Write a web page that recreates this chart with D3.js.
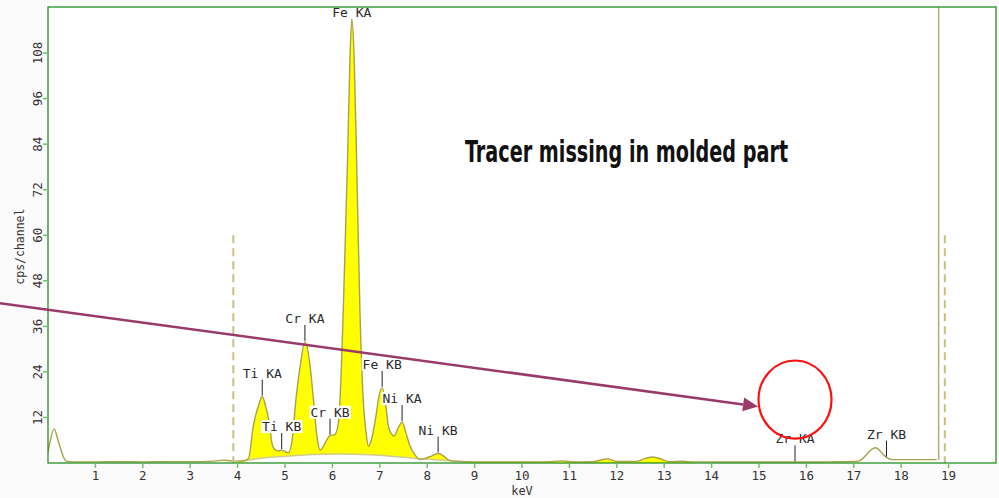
<!DOCTYPE html>
<html>
<head>
<meta charset="utf-8">
<script src="https://cdn.jsdelivr.net/npm/d3@7"></script>
<style>
  body { margin: 0; background: #fbfbfb; }
  svg { display: block; }
</style>
</head>
<body>
<div class="chart"></div>
<script>
// EDS spectrum, counts

var spectrumKeV = [0.00, 0.05, 0.13, 0.20, 0.25, 0.32, 0.39, 0.5, 1.0, 1.5, 2.0, 2.5, 3.0, 3.5, 3.7, 3.85, 4.0,
  4.12, 4.23, 4.33, 4.45, 4.52, 4.60, 4.68, 4.72, 4.78, 4.85, 4.93, 5.00, 5.07, 5.15, 5.23, 5.32, 5.42,
  5.53, 5.60, 5.68, 5.74, 5.81, 5.90, 5.95, 6.05, 6.12, 6.16, 6.23, 6.32, 6.37, 6.41, 6.46, 6.51, 6.58,
  6.65, 6.71, 6.76, 6.82, 6.92, 6.98, 7.05, 7.12, 7.18, 7.24, 7.30, 7.38, 7.47, 7.55, 7.64, 7.75, 7.85,
  7.95, 8.1, 8.23, 8.35, 8.45, 8.54, 8.8, 9.2, 9.6, 10.0, 10.5, 10.84, 11.1, 11.5, 11.79, 12.0, 12.4,
  12.6, 12.76, 12.95, 13.1, 13.4, 13.6, 14.0, 14.5, 15.0, 15.5, 16.0, 16.5, 17.0, 17.1, 17.45, 17.7,
  17.8, 18.3, 18.75];
var spectrumCounts = [2.7, 6.0, 9.0, 6.5, 4.4, 1.8, 0.5, 0.3, 0.3, 0.35, 0.3, 0.35, 0.35, 0.5, 0.75, 0.6, 0.5,
  0.6, 1.2, 9.7, 15.5, 17.5, 14.5, 9.7, 5.5, 3.6, 3.2, 3.4, 3.0, 2.7, 6.0, 16.7, 25.5, 31.9,
  25.5, 16.7, 6.5, 3.4, 4.4, 6.5, 7.2, 7.5, 10, 16.7, 40.5, 80, 106.4, 117, 106.4, 80, 40.5,
  16.7, 8, 4.4, 6.0, 12.5, 17.5, 19.8, 16, 9.7, 7.8, 7.1, 9.0, 10.8, 8.0, 4.4, 2.0, 0.9,
  1.2, 1.9, 2.5, 1.8, 0.8, 0.5, 0.35, 0.3, 0.3, 0.3, 0.3, 0.55, 0.3, 0.35, 1.1, 0.4, 0.4,
  1.2, 1.6, 1.0, 0.35, 0.45, 0.3, 0.3, 0.25, 0.25, 0.25, 0.25, 0.3, 0.4, 0.5, 4.0, 1.4,
  0.9, 0.9, 0.9];

// continuum under the main peaks
var backgroundKeV = [4.12, 4.19, 5.03, 6.09, 6.79, 7.85, 8.54, 8.8];
var backgroundCounts = [0.4, 0.66, 1.8, 2.4, 2.2, 1.1, 0.5, 0.3];

// peak markers
var peakNames = ["Ti KA", "Ti KB", "Cr KA", "Cr KB", "Fe KA", "Fe KB", "Ni KA", "Ni KB", "Zr KA", "Zr KB"];
var peakKeV = [4.52, 4.93, 5.42, 5.95, 6.41, 7.05, 7.47, 8.23, 15.76, 17.69];
var peakCounts = [17.5, 3.4, 31.9, 7.2, 117, 19.8, 10.8, 2.5, 0.2, 1.4];

var xTicks = d3.range(1, 20);
var yTicks = [12, 24, 36, 48, 60, 72, 84, 96, 108];

// ROI markers (keV)
var dashedMarkers = [3.91, 18.92];
var solidMarker = 18.79;

var svgWidth = 999;
var svgHeight = 498;

var svg = d3.select(".chart")
  .append("svg")
  .attr("width", svgWidth)
  .attr("height", svgHeight);

var plotLeft = 48, plotRight = 996, plotTop = 7, plotBottom = 463;

var x = d3.scaleLinear().domain([0, 20]).range([plotLeft, plotRight]);
var y = d3.scaleLinear().domain([0, 120]).range([plotBottom, plotTop + 0.5]);

svg.append("rect")
  .attr("x", plotLeft).attr("y", plotTop)
  .attr("width", plotRight - plotLeft).attr("height", plotBottom - plotTop)
  .attr("fill", "#ffffff");

var spec = spectrumKeV.map((k, i) => ({ k: k, c: spectrumCounts[i] }));
var bg = backgroundKeV.map((k, i) => ({ k: k, c: backgroundCounts[i] }));

svg.append("clipPath").attr("id", "plotclip")
  .append("rect")
  .attr("x", plotLeft).attr("y", plotTop)
  .attr("width", plotRight - plotLeft).attr("height", plotBottom - plotTop);

var plot = svg.append("g").attr("clip-path", "url(#plotclip)");

// yellow fill, only the lower range (Zr is outline only)
var fillArea = d3.area()
  .x(d => x(d.k))
  .y0(y(0))
  .y1(d => y(d.c))
  .curve(d3.curveMonotoneX);

plot.append("path")
  .datum(spec.filter(d => d.k >= 4.0 && d.k <= 13.6))
  .attr("d", fillArea)
  .attr("fill", "#ffff00");

// white under continuum
plot.append("path")
  .datum(bg)
  .attr("d", fillArea)
  .attr("fill", "#ffffff");

var line = d3.line()
  .x(d => x(d.k))
  .y(d => y(d.c))
  .curve(d3.curveMonotoneX);

plot.append("path")
  .datum(bg)
  .attr("d", line)
  .attr("fill", "none")
  .attr("stroke", "#d2ca90")
  .attr("stroke-width", 1.5);

plot.append("path")
  .datum(spec)
  .attr("d", line)
  .attr("fill", "none")
  .attr("stroke", "#a9a14c")
  .attr("stroke-width", 1.4);

// markers
dashedMarkers.forEach(function (k) {
  plot.append("line")
    .attr("x1", x(k)).attr("x2", x(k))
    .attr("y1", y(60)).attr("y2", plotBottom)
    .attr("stroke", "#c8bf80")
    .attr("stroke-width", 2)
    .attr("stroke-dasharray", "8,5");
});

plot.append("line")
  .attr("x1", x(solidMarker)).attr("x2", x(solidMarker))
  .attr("y1", plotTop).attr("y2", y(0.8))
  .attr("stroke", "#b5ad72")
  .attr("stroke-width", 1.5);

// peak labels
var labelFont = "'DejaVu Sans Mono', monospace";
peakNames.forEach(function (name, i) {
  var px = x(peakKeV[i]);
  var py = y(peakCounts[i]);
  var ty = Math.max(py - 18, 18);
  var g = svg.append("g");
  if (py - ty > 3) {
    g.append("line")
      .attr("x1", px).attr("x2", px)
      .attr("y1", py - 1).attr("y2", ty)
      .attr("stroke", "#222")
      .attr("stroke-width", 1);
  }
  var t = g.append("text")
    .attr("x", px)
    .attr("y", ty - 1)
    .attr("text-anchor", "middle")
    .style("font-family", labelFont)
    .style("font-size", "13px")
    .attr("fill", "#2a2a2a")
    .text(name);
  var bb = t.node().getBBox();
  if (name !== "Fe KA") {
    g.insert("rect", "text")
      .attr("x", bb.x - 1).attr("y", bb.y + 1)
      .attr("width", bb.width + 2).attr("height", bb.height - 2)
      .attr("fill", "#ffffff");
  }
});

// frame
svg.append("rect")
  .attr("x", plotLeft).attr("y", plotTop)
  .attr("width", plotRight - plotLeft).attr("height", plotBottom - plotTop)
  .attr("fill", "none")
  .attr("stroke", "#229022")
  .attr("stroke-width", 1.3);

// axes
var tickFont = "'DejaVu Sans Mono', monospace";

var xAxis = svg.append("g");
xAxis.selectAll("line")
  .data(xTicks).enter()
  .append("line")
  .attr("x1", d => x(d)).attr("x2", d => x(d))
  .attr("y1", plotBottom).attr("y2", plotBottom + 5)
  .attr("stroke", "#6cc46c")
  .attr("stroke-width", 1.5);
xAxis.selectAll("text")
  .data(xTicks).enter()
  .append("text")
  .attr("x", d => x(d))
  .attr("y", plotBottom + 17)
  .attr("text-anchor", "middle")
  .style("font-family", tickFont)
  .style("font-size", "12.5px")
  .attr("fill", "#333")
  .text(d => d);

svg.append("text")
  .attr("x", x(10))
  .attr("y", plotBottom + 32)
  .attr("text-anchor", "middle")
  .style("font-family", tickFont)
  .style("font-size", "12px")
  .attr("fill", "#333")
  .text("keV");

var yAxis = svg.append("g");
yAxis.selectAll("line")
  .data(yTicks).enter()
  .append("line")
  .attr("x1", plotLeft - 5).attr("x2", plotLeft)
  .attr("y1", d => y(d)).attr("y2", d => y(d))
  .attr("stroke", "#6cc46c")
  .attr("stroke-width", 1.5);
yAxis.selectAll("text")
  .data(yTicks).enter()
  .append("text")
  .attr("transform", d => `translate(${plotLeft - 6}, ${y(d)}) rotate(-90)`)
  .attr("text-anchor", "middle")
  .style("font-family", tickFont)
  .style("font-size", "12.5px")
  .attr("fill", "#333")
  .text(d => d);

svg.append("text")
  .attr("transform", `translate(24, ${y(57)}) rotate(-90)`)
  .attr("text-anchor", "middle")
  .style("font-family", tickFont)
  .style("font-size", "11.5px")
  .attr("fill", "#333")
  .text("cps/channel");

// annotation
var arrowFrom = [-1.013, 42.1];
var arrowTo = [14.98, 14.9];
var circleAt = [15.76, 16.7];

var ax0 = x(arrowFrom[0]), ay0 = y(arrowFrom[1]);
var ax1 = x(arrowTo[0]), ay1 = y(arrowTo[1]);
var ang = Math.atan2(ay1 - ay0, ax1 - ax0);
var headLen = 15, headW = 7;
var bx = ax1 - headLen * Math.cos(ang), by = ay1 - headLen * Math.sin(ang);

svg.append("line")
  .attr("x1", ax0).attr("y1", ay0)
  .attr("x2", bx).attr("y2", by)
  .attr("stroke", "#993a6a")
  .attr("stroke-width", 2.5);

svg.append("polygon")
  .attr("points", [
    [ax1, ay1],
    [bx + headW * Math.sin(ang), by - headW * Math.cos(ang)],
    [bx - headW * Math.sin(ang), by + headW * Math.cos(ang)]
  ].map(p => p.join(",")).join(" "))
  .attr("fill", "#993a6a");

svg.append("ellipse")
  .attr("cx", x(circleAt[0]))
  .attr("cy", y(circleAt[1]))
  .attr("rx", x(circleAt[0] + 0.77) - x(circleAt[0]))
  .attr("ry", y(circleAt[1]) - y(circleAt[1] + 10.3))
  .attr("fill", "none")
  .attr("stroke", "#ff1010")
  .attr("stroke-width", 2.2);

svg.append("text")
  .attr("x", x(8.8))
  .attr("y", y(79.2))
  .attr("textLength", 323)
  .attr("lengthAdjust", "spacingAndGlyphs")
  .style("font-family", "'DejaVu Sans Condensed', 'DejaVu Sans', sans-serif")
  .style("font-weight", "bold")
  .style("font-size", "30px")
  .attr("fill", "#111")
  .text("Tracer missing in molded part");
</script>
</body>
</html>
